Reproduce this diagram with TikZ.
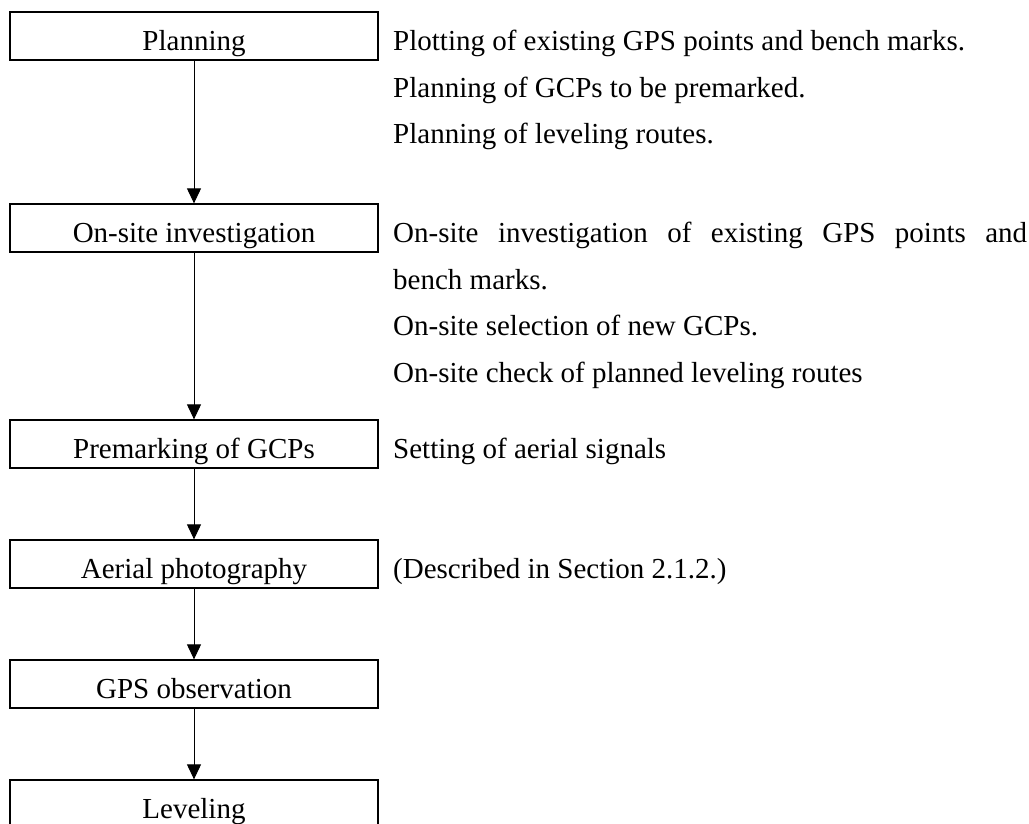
\documentclass[tikz,border=0pt]{standalone}
\usepackage{fontspec}
\setmainfont{Liberation Serif}
\usetikzlibrary{arrows.meta}
\begin{document}
\begin{tikzpicture}[x=1pt,y=-1pt,
  stepbox/.style={draw=black,line width=1.3pt,minimum width=368pt,minimum height=48pt,
    inner sep=0pt,text height=29pt,text depth=0pt,font=\fontsize{29}{34}\selectfont},
  desc/.style={anchor=base west,inner sep=0pt,font=\fontsize{29}{34}\selectfont},
  flow/.style={line width=1pt,-{Triangle[width=14pt,length=15pt]}}]
\clip (0,0) rectangle (1029,823);
\fill[white] (0,0) rectangle (1029,823);
% boxes
\node[stepbox] (b1) at (194,36) {Planning};
\node[stepbox] (b2) at (194,228) {On-site investigation};
\node[stepbox] (b3) at (194,444) {Premarking of GCPs};
\node[stepbox] (b4) at (194,564) {Aerial photography};
\node[stepbox] (b5) at (194,684) {GPS observation};
\node[stepbox] (b6) at (194,804) {Leveling};
% arrows
\draw[flow] (b1) -- (b2);
\draw[flow] (b2) -- (b3);
\draw[flow] (b3) -- (b4);
\draw[flow] (b4) -- (b5);
\draw[flow] (b5) -- (b6);
% descriptions
\node[desc] (t11) at (393,50.5) {Plotting of existing GPS points and bench marks.};
\node[desc] (t12) at (393,97) {Planning of GCPs to be premarked.};
\node[desc] (t13) at (393,143.5) {Planning of leveling routes.};
\node[desc] (t21) at (393,242.5) {\makebox[634pt][s]{On-site investigation of existing GPS points and}};
\node[desc] (t22) at (393,289) {bench marks.};
\node[desc] (t23) at (393,335.5) {On-site selection of new GCPs.};
\node[desc] (t24) at (393,382) {On-site check of planned leveling routes};
\node[desc] (t3) at (393,458.5) {Setting of aerial signals};
\node[desc] (t4) at (393,578.5) {(Described in Section 2.1.2.)};
\end{tikzpicture}
\end{document}
